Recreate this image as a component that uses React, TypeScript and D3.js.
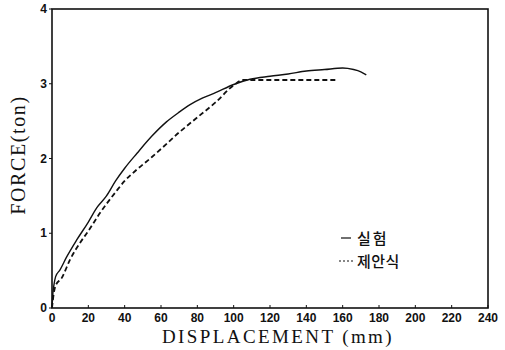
import React from 'react';
import * as d3 from 'd3';

// 실험 (experiment) curve, displacement mm vs force ton
const testDisp = [0, 0.5, 1, 2, 4.4, 8, 13.6, 20, 24.6, 30, 35, 40, 46.8, 55, 63, 70, 76, 83, 90, 100, 109, 120, 130, 140, 150, 160, 166, 170, 173];
const testForce = [0, 0.2, 0.3, 0.42, 0.51, 0.68, 0.91, 1.15, 1.34, 1.5, 1.7, 1.87, 2.07, 2.3, 2.49, 2.62, 2.72, 2.81, 2.88, 2.99, 3.06, 3.1, 3.13, 3.17, 3.19, 3.21, 3.19, 3.16, 3.12];

// 제안식 (proposed) curve
const propDisp = [0, 1, 2, 5.3, 10, 15.4, 20, 26.4, 35, 40, 46.6, 55, 61, 70, 80, 90, 100, 105, 120, 140, 157];
const propForce = [0, 0.2, 0.3, 0.4, 0.65, 0.87, 1.03, 1.27, 1.55, 1.7, 1.85, 2.02, 2.15, 2.35, 2.55, 2.75, 2.98, 3.05, 3.05, 3.05, 3.05];

const xTicks = [0, 20, 40, 60, 80, 100, 120, 140, 160, 180, 200, 220, 240];
const yTicks = [0, 1, 2, 3, 4];
const legendLabels = ['실험', '제안식'];

const W = 505, H = 350;
const margin = { top: 9, right: 17, bottom: 42, left: 52 };

export default function App() {
  const x = d3.scaleLinear().domain([0, 240]).range([margin.left, W - margin.right]);
  const y = d3.scaleLinear().domain([0, 4]).range([H - margin.bottom, margin.top]);
  const line = d3.line<[number, number]>().x(d => x(d[0])).y(d => y(d[1])).curve(d3.curveMonotoneX);
  const test = testDisp.map((d, i) => [d, testForce[i]] as [number, number]);
  const prop = propDisp.map((d, i) => [d, propForce[i]] as [number, number]);
  const tickFont = { fontFamily: '"Liberation Sans", Arial, sans-serif', fontWeight: 700, fontSize: 12 };
  const serif = '"Liberation Serif", "DejaVu Serif", serif';

  return (
    <svg width={W} height={H} style={{ position: 'absolute', left: 0, top: 0, background: '#fff' }}>
      <rect x={x(0)} y={y(4)} width={x(240) - x(0)} height={y(0) - y(4)} fill="none" stroke="#111" strokeWidth={1.6} />
      {xTicks.map(t => (
        <g key={'x' + t}>
          <line x1={x(t)} x2={x(t)} y1={y(0)} y2={y(0) - 3} stroke="#111" />
          <text x={x(t)} y={y(0) + 14} textAnchor="middle" style={tickFont} fill="#111">{t}</text>
        </g>
      ))}
      {yTicks.map(t => (
        <g key={'y' + t}>
          <line x1={x(0) - 3} x2={x(0)} y1={y(t)} y2={y(t)} stroke="#111" />
          <text x={x(0) - 5} y={y(t) + 4} textAnchor="end" style={tickFont} fill="#111">{t}</text>
        </g>
      ))}
      <path d={line(test) || ''} fill="none" stroke="#111" strokeWidth={1.4} />
      <path d={line(prop) || ''} fill="none" stroke="#111" strokeWidth={1.8} strokeDasharray="5,3" />
      <text x={278} y={H - 7} textAnchor="middle" fontFamily={serif} fontSize={19} letterSpacing={2.4} fill="#111">DISPLACEMENT (mm)</text>
      <text transform={`translate(25,${155}) rotate(-90)`} textAnchor="middle" fontFamily={serif} fontSize={20} letterSpacing={1.6} fill="#111">FORCE(ton)</text>
      <g fontFamily='"Noto Sans CJK KR", sans-serif' fontSize={15} fontWeight={500} fill="#111">
        <line x1={341} x2={351} y1={238} y2={238} stroke="#111" strokeWidth={1.2} />
        <text x={357} y={244} letterSpacing={2}>{legendLabels[0]}</text>
        <line x1={339} x2={353} y1={261} y2={261} stroke="#111" strokeWidth={1.2} strokeDasharray="2,2" />
        <text x={357} y={267} letterSpacing={0.5}>{legendLabels[1]}</text>
      </g>
    </svg>
  );
}
